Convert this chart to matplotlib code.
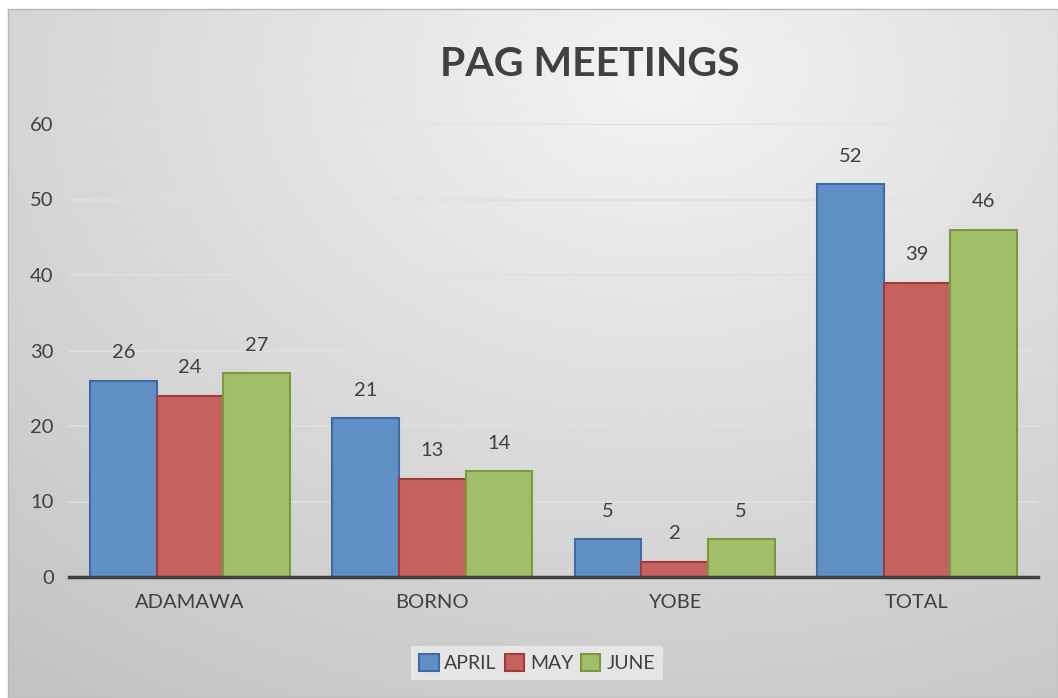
import matplotlib.pyplot as plt
import matplotlib
import numpy as np

matplotlib.rcParams['font.family'] = ['Lato', 'DejaVu Sans']

categories = ["ADAMAWA", "BORNO", "YOBE", "TOTAL"]
april = [26, 21, 5, 52]
may = [24, 13, 2, 39]
june = [27, 14, 5, 46]
series_names = ["APRIL", "MAY", "JUNE"]
yticks = [0, 10, 20, 30, 40, 50, 60]

W, H = 1058, 698
fig = plt.figure(figsize=(W / 100, H / 100), dpi=100)

# gradient background (radial, light near top centre)
bg = fig.add_axes([8 / W, 0, 1 - 8 / W, 1 - 9 / H])
yy, xx = np.mgrid[0:1:300j, 0:1:450j]
r = np.sqrt(((xx - 0.62) / 0.85) ** 2 + ((yy - 0.1) / 0.95) ** 2)
shade = 0.95 - 0.16 * np.clip(r, 0, 1.2)
bg.imshow(shade, cmap="gray", vmin=0, vmax=1, aspect="auto", extent=[0, 1, 1, 0])
bg.set_xticks([])
bg.set_yticks([])
for s in bg.spines.values():
    s.set_color("#b8b8b8")
    s.set_linewidth(1)

ax = fig.add_axes([69 / W, (H - 577) / H, (1038 - 69) / W, (577 - 124) / H])
ax.patch.set_alpha(0)

x = np.arange(len(categories))
w = 0.275
colors = ['#6190c6', '#c5625f', '#a3be68']
edges = ['#3e6ba6', '#a23b38', '#7b9a3f']
for i, (vals, name) in enumerate(zip([april, may, june], series_names)):
    bars = ax.bar(x + (i - 1) * w, vals, w, color=colors[i], edgecolor=edges[i],
                  linewidth=1.5, label=name, zorder=3)
    for b, v in zip(bars, vals):
        ax.annotate(str(v), (b.get_x() + b.get_width() / 2, v), xytext=(0, 14),
                    textcoords="offset points", ha="center", va="bottom",
                    fontsize=14.5, color="#404040")

ax.set_xlim(-0.5, 3.5)
ax.set_ylim(0, 60)
ax.set_yticks(yticks)
ax.set_xticks(x)
ax.set_xticklabels(categories)
ax.tick_params(length=0, labelsize=14.5, colors="#404040")
ax.tick_params(axis="y", pad=11)
ax.tick_params(axis="x", pad=12)
ax.yaxis.grid(True, color="#e0e0e0", linewidth=1.2, zorder=0)
for s in ["top", "right", "left"]:
    ax.spines[s].set_visible(False)
ax.spines["bottom"].set_color("#404040")
ax.spines["bottom"].set_linewidth(2.5)
ax.spines["bottom"].set_zorder(4)

fig.text(590 / W, 1 - 64 / H, "PAG MEETINGS", ha="center", va="center",
         fontsize=29.5, fontweight="bold", color="#404040")

leg = fig.legend(loc="center", bbox_to_anchor=(537 / W, 1 - 663 / H), ncol=3,
                 fontsize=14, frameon=True, fancybox=False, handlelength=1,
                 handleheight=1, handletextpad=0.3, columnspacing=0.4,
                 borderpad=0.4)
leg.get_frame().set_facecolor("#ececec")
leg.get_frame().set_edgecolor("none")
for t in leg.get_texts():
    t.set_color("#404040")

fig.savefig("out.png", dpi=100)
